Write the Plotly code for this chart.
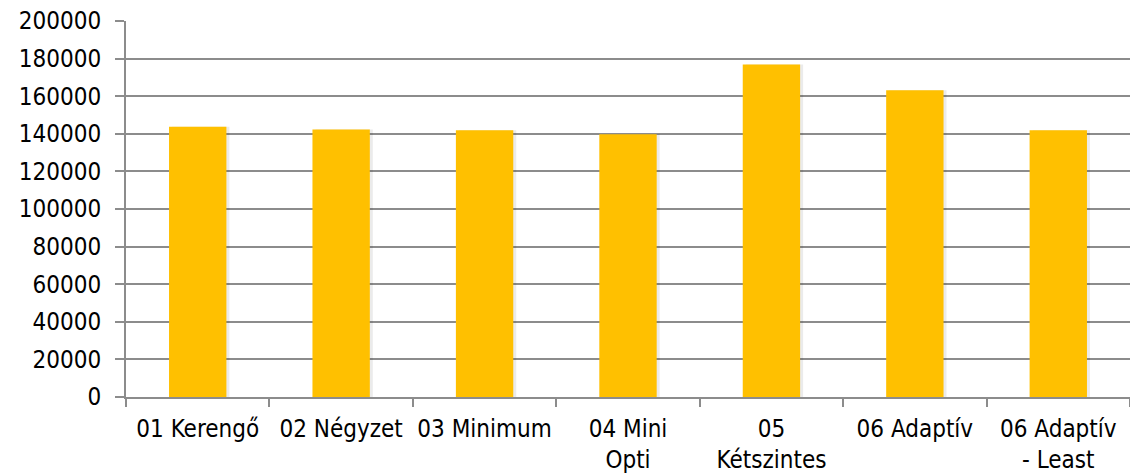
import plotly.graph_objects as go

# Categories (tick labels) and the value of each bar
categories = [
    "01 Kerengő",
    "02 Négyzet",
    "03 Minimum",
    "04 Mini<br>Opti",
    "05<br>Kétszintes",
    "06 Adaptív",
    "06 Adaptív<br>- Least",
]
values = [143800, 142300, 141900, 139700, 176900, 163200, 141900]
y_ticks = [0, 20000, 40000, 60000, 80000, 100000, 120000, 140000, 160000, 180000, 200000]

BAR_COLOR = "#FFC000"
GRID_COLOR = "#8C8C8C"
FONT = "DejaVu Sans Condensed, DejaVu Sans, sans-serif"
FONT_SIZE = 24

fig = go.Figure()

# soft drop shadow just to the right of each bar
fig.add_trace(
    go.Bar(
        x=categories,
        y=values,
        marker=dict(color="rgba(0,0,0,0.08)", line=dict(width=0)),
        width=0.4,
        offset=-0.2 + 3 / 143.6,
        hoverinfo="skip",
    )
)
fig.add_trace(
    go.Bar(
        x=categories,
        y=values,
        marker=dict(color=BAR_COLOR, line=dict(width=0)),
        width=0.4,
        offset=-0.2,
    )
)

fig.update_layout(
    width=1130,
    height=473,
    margin=dict(l=126, r=0, t=21, b=76, autoexpand=False),
    paper_bgcolor="white",
    plot_bgcolor="white",
    showlegend=False,
    barmode="overlay",
    font=dict(family=FONT, size=FONT_SIZE, color="#000000"),
    xaxis=dict(
        type="category",
        automargin=False,
        tickangle=0,
        showgrid=False,
        showline=True,
        linecolor=GRID_COLOR,
        linewidth=2,
        ticks="outside",
        tickson="boundaries",
        ticklen=8,
        tickwidth=2,
        tickcolor=GRID_COLOR,
        ticklabelstandoff=9,
        tickfont=dict(family=FONT, size=FONT_SIZE, color="#000000"),
    ),
    yaxis=dict(
        range=[0, 200000],
        automargin=False,
        tickvals=y_ticks,
        ticktext=[str(v) for v in y_ticks],
        showgrid=True,
        gridcolor=GRID_COLOR,
        gridwidth=2,
        zeroline=False,
        showline=True,
        linecolor=GRID_COLOR,
        linewidth=2,
        ticks="outside",
        ticklen=9,
        tickwidth=2,
        tickcolor=GRID_COLOR,
        ticklabelstandoff=9,
        tickfont=dict(family=FONT, size=FONT_SIZE, color="#000000"),
    ),
)

fig.write_html("out.html")
